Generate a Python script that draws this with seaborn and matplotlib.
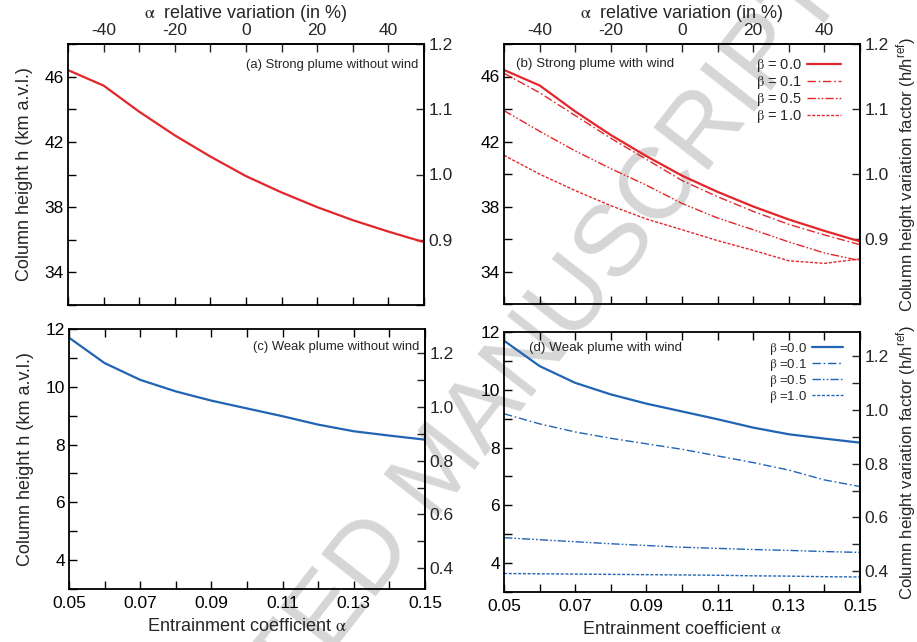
import numpy as np
import pandas as pd
import matplotlib
matplotlib.use("Agg")
import matplotlib.pyplot as plt
from matplotlib.ticker import MultipleLocator, FixedLocator
import seaborn as sns

# ---------------- data ----------------
alpha = [0.05, 0.06, 0.07, 0.08, 0.09, 0.10, 0.11, 0.12, 0.13, 0.14, 0.15]
betas = ["0.0", "0.1", "0.5", "1.0"]

strong_b00 = [46.40, 45.45, 43.85, 42.40, 41.10, 39.90, 38.90, 38.00, 37.20, 36.50, 35.85]
strong_b01 = [46.20, 45.00, 43.60, 42.20, 40.90, 39.60, 38.60, 37.70, 36.90, 36.25, 35.65]
strong_b05 = [43.90, 42.63, 41.42, 40.33, 39.31, 38.19, 37.29, 36.57, 35.82, 35.14, 34.67]
strong_b10 = [41.15, 39.99, 38.98, 38.05, 37.23, 36.57, 35.90, 35.30, 34.66, 34.50, 34.77]

weak_b00 = [11.70, 10.82, 10.24, 9.84, 9.52, 9.25, 8.98, 8.69, 8.46, 8.31, 8.17]
weak_b01 = [9.17, 8.82, 8.54, 8.32, 8.13, 7.94, 7.71, 7.48, 7.22, 6.88, 6.65]
weak_b05 = [4.88, 4.81, 4.74, 4.67, 4.61, 4.55, 4.51, 4.47, 4.44, 4.40, 4.37]
weak_b10 = [3.64, 3.63, 3.62, 3.61, 3.60, 3.59, 3.58, 3.56, 3.55, 3.53, 3.52]

alpha_ref = 0.10
strong_href = 40.0
weak_href = 9.3

top_ticks = [-40, -20, 0, 20, 40]
bottom_ticks = [0.05, 0.07, 0.09, 0.11, 0.13, 0.15]

# ---------------- style ----------------
sns.set_style("ticks")
plt.rcParams["font.family"] = ["Liberation Sans", "DejaVu Sans"]
plt.rcParams["mathtext.fontset"] = "stix"

RED = "#e3262a"
BLUE = "#2164b4"
TICK_FS = 12.5
LAB_FS = 13
TITLE_FS = 9.4

styles = {
    "0.0": dict(ls="-", lw=1.6),
    "0.1": dict(ls=(0, (6, 2, 1.2, 2)), lw=1.0),
    "0.5": dict(ls=(0, (6, 1.5, 1.2, 1.5, 1.2, 1.5)), lw=1.0),
    "1.0": dict(ls=(0, (2.2, 1.2)), lw=1.0),
}

fig = plt.figure(figsize=(9.17, 6.42), dpi=100)

# watermark (behind the plots)
fig.text(0.481, 0.265, "ACCEPTED MANUSCRIPT", rotation=52, fontsize=73,
         color="#d6d6d6", ha="center", va="center", zorder=-5,
         rotation_mode="anchor")

W, H = 917.0, 642.0
def rect(l, r, t, b):
    return [l / W, (H - b) / H, (r - l) / W, (b - t) / H]

axA = fig.add_axes(rect(68, 424, 44, 305))
axB = fig.add_axes(rect(504, 860, 44, 304))
axC = fig.add_axes(rect(69, 425, 329, 589))
axD = fig.add_axes(rect(504, 860, 332, 592))

def a2p(a):
    return (np.asarray(a) - alpha_ref) / alpha_ref * 100.0
def p2a(p):
    return np.asarray(p) / 100.0 * alpha_ref + alpha_ref

def setup(ax, ylim, ymaj, ymin, href, rmaj, rmin, top, left_label, right_label, bottom):
    ax.set_facecolor("none")
    ax.set_xlim(0.05, 0.15)
    ax.set_ylim(*ylim)
    for s in ax.spines.values():
        s.set_visible(True)
        s.set_linewidth(1.3)
        s.set_color("black")
    ax.xaxis.set_major_locator(FixedLocator(bottom_ticks))
    ax.xaxis.set_minor_locator(MultipleLocator(0.01))
    ax.yaxis.set_major_locator(FixedLocator(ymaj))
    ax.yaxis.set_minor_locator(MultipleLocator(ymin))
    ax.tick_params(axis="both", which="both", direction="in", length=6, width=1.0,
                   labelsize=TICK_FS, colors="black")
    ax.tick_params(axis="x", which="both", top=not top, bottom=True,
                   labelbottom=bottom, pad=5)
    ax.tick_params(axis="y", which="both", left=True, right=False, pad=3)
    if bottom:
        ax.xaxis.set_major_formatter(matplotlib.ticker.FuncFormatter(lambda v, p: f"{v:.2f}"))
        ax.set_xlabel(r"Entrainment coefficient $\mathrm{\alpha}$", fontsize=LAB_FS, labelpad=5)
    else:
        ax.set_xlabel("")
    ax.set_ylabel(left_label, fontsize=LAB_FS, labelpad=8)

    sec = ax.secondary_yaxis("right", functions=(lambda h: np.asarray(h) / href,
                                                 lambda f: np.asarray(f) * href))
    sec.yaxis.set_major_locator(FixedLocator(rmaj))
    sec.yaxis.set_minor_locator(MultipleLocator(rmin))
    sec.tick_params(axis="y", which="both", direction="in", length=6, width=1.0,
                    labelsize=TICK_FS, pad=3)
    sec.yaxis.set_major_formatter(matplotlib.ticker.FuncFormatter(lambda v, p: f"{v:.1f}"))
    sec.spines["right"].set_linewidth(1.3)
    if right_label:
        sec.set_ylabel(right_label, fontsize=12, labelpad=5)

    if top:
        st = ax.secondary_xaxis("top", functions=(a2p, p2a))
        st.xaxis.set_major_locator(FixedLocator(top_ticks))
        st.xaxis.set_minor_locator(MultipleLocator(10))
        st.tick_params(axis="x", which="both", direction="in", length=6, width=1.0,
                       labelsize=TICK_FS, pad=4)
        st.xaxis.set_major_formatter(matplotlib.ticker.FuncFormatter(lambda v, p: f"{v:.0f}"))
        st.spines["top"].set_linewidth(1.3)
        st.set_xlabel(r"$\mathrm{\alpha}$  relative variation (in %)", fontsize=LAB_FS, labelpad=4)

def draw(ax, series, color, prefix):
    for b, vals in zip(betas, series):
        df = pd.DataFrame({"alpha": alpha, "h": vals})
        st = styles[b]
        sns.lineplot(data=df, x="alpha", y="h", ax=ax, color=color,
                     linestyle=st["ls"], linewidth=st["lw"],
                     label=prefix + b, legend=False)

strong_all = [strong_b00, strong_b01, strong_b05, strong_b10]
weak_all = [weak_b00, weak_b01, weak_b05, weak_b10]

# (a)
sns.lineplot(x=alpha, y=strong_b00, ax=axA, color=RED, linewidth=1.6)
# (b)
draw(axB, strong_all, RED, r"$\mathrm{\beta}$ = ")
# (c)
sns.lineplot(x=alpha, y=weak_b00, ax=axC, color=BLUE, linewidth=1.6)
# (d)
draw(axD, weak_all, BLUE, r"$\mathrm{\beta}$ =")

rlab = r"Column height variation factor (h/h$^{\mathregular{ref}}$)"
llab = "Column height h (km a.v.l.)"
setup(axA, (32, 48), [34, 38, 42, 46], 2, strong_href, [0.9, 1.0, 1.1, 1.2], 0.1,
      True, llab, None, False)
setup(axB, (32, 48), [34, 38, 42, 46], 2, strong_href, [0.9, 1.0, 1.1, 1.2], 0.1,
      True, "", rlab, False)
setup(axC, (3, 12), [4, 6, 8, 10, 12], 1, weak_href, [0.4, 0.6, 0.8, 1.0, 1.2], 0.1,
      False, llab, None, True)
setup(axD, (3, 12), [4, 6, 8, 10, 12], 1, weak_href, [0.4, 0.6, 0.8, 1.0, 1.2], 0.1,
      False, "", rlab, True)

# panel titles
axA.text(0.985, 0.92, "(a) Strong plume without wind", transform=axA.transAxes,
         ha="right", va="center", fontsize=TITLE_FS)
axB.text(0.035, 0.925, "(b) Strong plume with wind", transform=axB.transAxes,
         ha="left", va="center", fontsize=TITLE_FS + 0.2)
axC.text(0.985, 0.93, "(c) Weak plume without wind", transform=axC.transAxes,
         ha="right", va="center", fontsize=TITLE_FS)
axD.text(0.07, 0.94, "(d) Weak plume with wind", transform=axD.transAxes,
         ha="left", va="center", fontsize=TITLE_FS + 0.2)

axB.legend(loc="upper right", bbox_to_anchor=(0.975, 0.99), frameon=False,
           markerfirst=False, fontsize=10.5, handlelength=2.3, handletextpad=0.4,
           labelspacing=0.0, borderpad=0.2)
axD.legend(loc="upper right", bbox_to_anchor=(0.975, 1.0), frameon=False,
           markerfirst=False, fontsize=9.5, handlelength=2.3, handletextpad=0.4,
           labelspacing=0.0, borderpad=0.15)

fig.savefig("out.png", dpi=100)
